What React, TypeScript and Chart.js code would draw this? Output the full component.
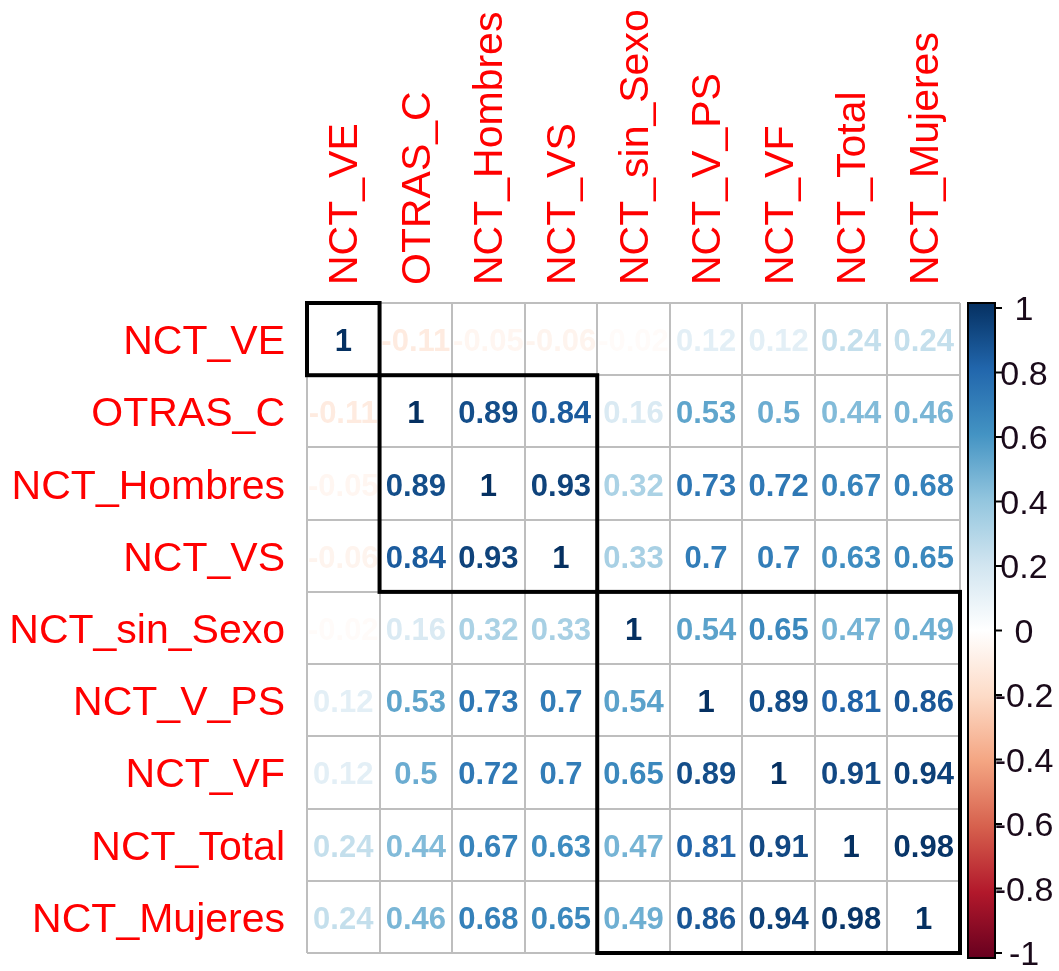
import React, { useEffect, useRef } from "react";
import { Chart, registerables } from "chart.js";

Chart.register(...registerables);

// ---- data ----
const variables = [
  "NCT_VE",
  "OTRAS_C",
  "NCT_Hombres",
  "NCT_VS",
  "NCT_sin_Sexo",
  "NCT_V_PS",
  "NCT_VF",
  "NCT_Total",
  "NCT_Mujeres",
];

const rowNCT_VE = [1, -0.11, -0.05, -0.06, -0.02, 0.12, 0.12, 0.24, 0.24];
const rowOTRAS_C = [-0.11, 1, 0.89, 0.84, 0.16, 0.53, 0.5, 0.44, 0.46];
const rowNCT_Hombres = [-0.05, 0.89, 1, 0.93, 0.32, 0.73, 0.72, 0.67, 0.68];
const rowNCT_VS = [-0.06, 0.84, 0.93, 1, 0.33, 0.7, 0.7, 0.63, 0.65];
const rowNCT_sin_Sexo = [-0.02, 0.16, 0.32, 0.33, 1, 0.54, 0.65, 0.47, 0.49];
const rowNCT_V_PS = [0.12, 0.53, 0.73, 0.7, 0.54, 1, 0.89, 0.81, 0.86];
const rowNCT_VF = [0.12, 0.5, 0.72, 0.7, 0.65, 0.89, 1, 0.91, 0.94];
const rowNCT_Total = [0.24, 0.44, 0.67, 0.63, 0.47, 0.81, 0.91, 1, 0.98];
const rowNCT_Mujeres = [0.24, 0.46, 0.68, 0.65, 0.49, 0.86, 0.94, 0.98, 1];

const corrRows = [
  rowNCT_VE,
  rowOTRAS_C,
  rowNCT_Hombres,
  rowNCT_VS,
  rowNCT_sin_Sexo,
  rowNCT_V_PS,
  rowNCT_VF,
  rowNCT_Total,
  rowNCT_Mujeres,
];

// hierarchical cluster boundaries (indices)
const clusterBreaks = [0, 1, 4, 9];

const legendTicks = [1, 0.8, 0.6, 0.4, 0.2, 0, -0.2, -0.4, -0.6, -0.8, -1];
const legendTickLabels = ["1", "0.8", "0.6", "0.4", "0.2", "0", "-0.2", "-0.4", "-0.6", "-0.8", "-1"];

const paletteStops = [
  "#67001F",
  "#B2182B",
  "#D6604D",
  "#F4A582",
  "#FDDBC7",
  "#FFFFFF",
  "#D1E5F0",
  "#92C5DE",
  "#4393C3",
  "#2166AC",
  "#053061",
];

function hexToRgb(h: string) {
  const n = parseInt(h.slice(1), 16);
  return [(n >> 16) & 255, (n >> 8) & 255, n & 255];
}

function colorFor(v: number) {
  const t = ((Math.max(-1, Math.min(1, v)) + 1) / 2) * (paletteStops.length - 1);
  const i = Math.min(paletteStops.length - 2, Math.floor(t));
  const f = t - i;
  const a = hexToRgb(paletteStops[i]);
  const b = hexToRgb(paletteStops[i + 1]);
  const c = a.map((x, k) => Math.round(x + (b[k] - x) * f));
  return `rgb(${c[0]},${c[1]},${c[2]})`;
}

const FONT = '"Liberation Sans", Arial, Helvetica, sans-serif';

const corrPlugin = {
  id: "corrDecor",
  afterDatasetsDraw(chart: any) {
    const ctx = chart.ctx as CanvasRenderingContext2D;
    const xs = chart.scales.x;
    const ys = chart.scales.y;
    const meta = chart.getDatasetMeta(0);
    const ds = chart.data.datasets[0];

    // numbers in cells
    ctx.save();
    ctx.font = `bold 31px ${FONT}`;
    ctx.textAlign = "center";
    ctx.textBaseline = "alphabetic";
    meta.data.forEach((el: any, i: number) => {
      const raw = ds.data[i];
      ctx.fillStyle = colorFor(raw.v);
      ctx.fillText(String(raw.v), el.x, el.y + 12);
    });
    ctx.restore();

    // cluster rectangles
    ctx.save();
    ctx.strokeStyle = "#000000";
    ctx.lineWidth = 4;
    ctx.lineJoin = "miter";
    for (let k = 0; k < clusterBreaks.length - 1; k++) {
      const a = clusterBreaks[k];
      const b = clusterBreaks[k + 1];
      const x0 = xs.getPixelForValue(a);
      const x1 = xs.getPixelForValue(b);
      const y0 = ys.getPixelForValue(a);
      const y1 = ys.getPixelForValue(b);
      ctx.strokeRect(x0, y0, x1 - x0, y1 - y0);
    }
    ctx.restore();

    // row labels
    ctx.save();
    ctx.font = `41px ${FONT}`;
    ctx.fillStyle = "#FF0000";
    ctx.textAlign = "right";
    ctx.textBaseline = "alphabetic";
    variables.forEach((name, i) => {
      const y = ys.getPixelForValue(i + 0.5);
      ctx.fillText(name, xs.left - 22, y + 15);
    });
    ctx.restore();

    // column labels (rotated)
    ctx.save();
    ctx.font = `41px ${FONT}`;
    ctx.fillStyle = "#FF0000";
    ctx.textAlign = "left";
    ctx.textBaseline = "alphabetic";
    variables.forEach((name, i) => {
      const x = xs.getPixelForValue(i + 0.5);
      ctx.save();
      ctx.translate(x + 14, ys.top - 18);
      ctx.rotate(-Math.PI / 2);
      ctx.fillText(name, 0, 0);
      ctx.restore();
    });
    ctx.restore();

    // color legend
    const barL = xs.right + 8;
    const barR = barL + 27;
    const barT = ys.top;
    const barB = ys.bottom + 5;
    const vToY = (v: number) => barT + 5 + ((1 - v) / 2) * (barB - barT - 10);
    ctx.save();
    const grad = ctx.createLinearGradient(0, barB, 0, barT);
    paletteStops.forEach((c, i) => grad.addColorStop(i / (paletteStops.length - 1), c));
    ctx.fillStyle = grad;
    ctx.fillRect(barL, barT, barR - barL, barB - barT);
    ctx.strokeStyle = "#000000";
    ctx.lineWidth = 2;
    ctx.strokeRect(barL, barT, barR - barL, barB - barT);
    ctx.font = `34px ${FONT}`;
    ctx.fillStyle = "#1a0a1a";
    ctx.textAlign = "center";
    ctx.textBaseline = "alphabetic";
    legendTicks.forEach((v, i) => {
      const y = vToY(v);
      ctx.beginPath();
      ctx.moveTo(barR, y);
      ctx.lineTo(barR + 7, y);
      ctx.stroke();
      ctx.fillText(legendTickLabels[i], barR + 29, y + 12);
    });
    ctx.restore();
  },
};

export default function App() {
  const canvasRef = useRef<HTMLCanvasElement | null>(null);

  useEffect(() => {
    document.body.style.margin = "0";
    const points: any[] = [];
    corrRows.forEach((row, r) =>
      row.forEach((v, c) => points.push({ x: c + 0.5, y: r + 0.5, v }))
    );
    const chart = new Chart(canvasRef.current as HTMLCanvasElement, {
      type: "scatter",
      data: {
        datasets: [
          {
            data: points,
            pointRadius: 0,
            pointHoverRadius: 0,
            backgroundColor: "rgba(0,0,0,0)",
            borderColor: "rgba(0,0,0,0)",
          },
        ],
      },
      options: {
        responsive: false,
        animation: false,
        events: [],
        layout: { padding: { left: 307, right: 99, top: 303, bottom: 18 } },
        plugins: { legend: { display: false }, tooltip: { enabled: false } },
        scales: {
          x: {
            type: "linear",
            min: 0,
            max: 9,
            position: "bottom",
            ticks: { display: false, stepSize: 1 },
            grid: { color: "#BEBEBE", lineWidth: 2, drawTicks: false },
            border: { display: false },
          },
          y: {
            type: "linear",
            min: 0,
            max: 9,
            reverse: true,
            ticks: { display: false, stepSize: 1 },
            grid: { color: "#BEBEBE", lineWidth: 2, drawTicks: false },
            border: { display: false },
          },
        },
      },
      plugins: [corrPlugin],
    });
    return () => chart.destroy();
  }, []);

  return (
    <div style={{ position: "absolute", left: 0, top: 0, width: 1059, height: 971, background: "#fff" }}>
      <canvas ref={canvasRef} width={1059} height={971} style={{ display: "block" }} />
    </div>
  );
}
